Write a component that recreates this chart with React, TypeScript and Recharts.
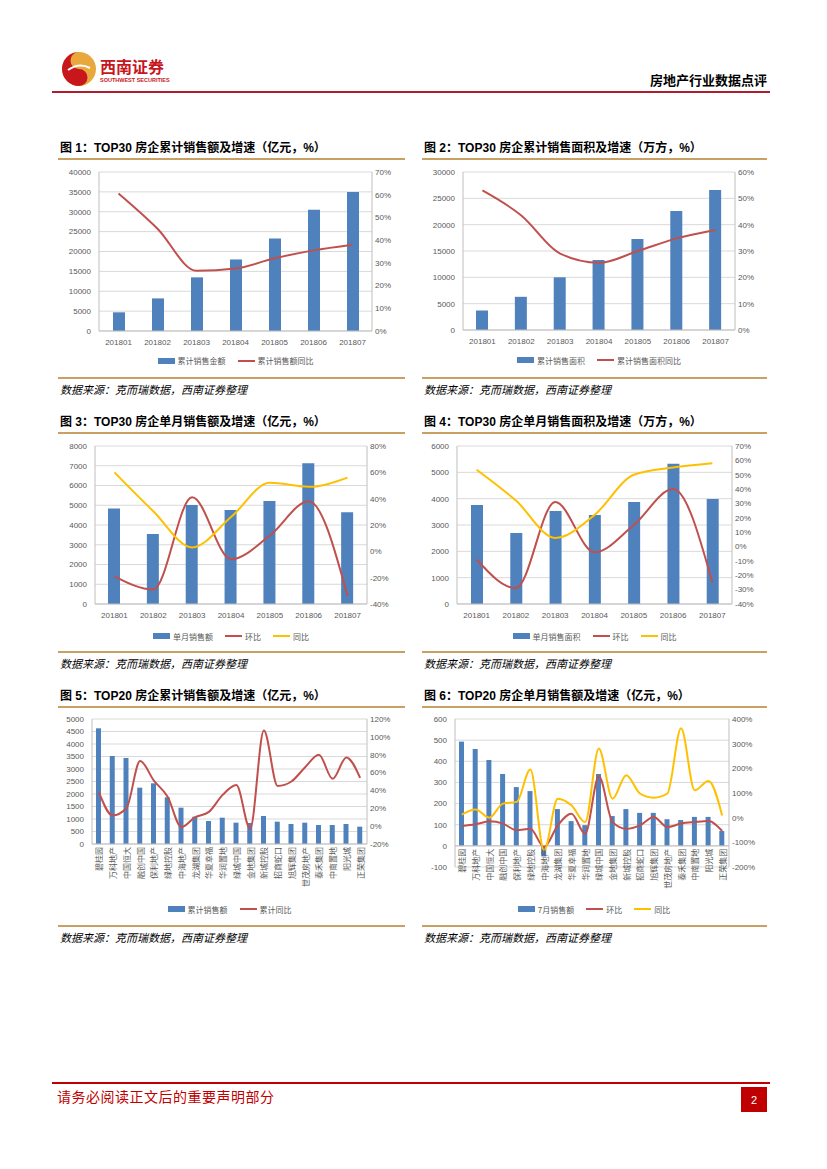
import React from 'react';
import { ComposedChart, Bar, Line, XAxis, YAxis, CartesianGrid, Legend, ReferenceLine } from 'recharts';

// months shared by charts 1-4
const months = ['201801', '201802', '201803', '201804', '201805', '201806', '201807'];

// chart 1: cumulative sales amount (亿元) and yoy (%)
const cumAmount = [4700, 8200, 13500, 18000, 23300, 30500, 35000];
const cumAmountYoy = [60.5, 45, 26.5, 27.5, 32, 35.5, 38];

// chart 2: cumulative sales area (万方) and yoy (%)
const cumArea = [3700, 6300, 10000, 13300, 17300, 22600, 26600];
const cumAreaYoy = [53, 43.5, 29, 25.5, 30, 34.8, 38];

// chart 3: monthly sales amount, mom, yoy
const monthAmount = [4840, 3550, 5010, 4760, 5210, 7130, 4650];
const monthAmountMom = [-19, -29, 41, -6, 12, 38, -34];
const monthAmountYoy = [60, 30.5, 3, 26, 52, 49, 56];

// chart 4: monthly sales area, mom, yoy
const monthArea = [3760, 2700, 3530, 3380, 3870, 5330, 3985];
const monthAreaMom = [-9, -29, 31, -4, 15, 40, -25];
const monthAreaYoy = [53.5, 32, 6, 22, 50, 55, 58];

// charts 5-6: top 20 developers
const companies = [
  '碧桂园', '万科地产', '中国恒大', '融创中国', '保利地产', '绿地控股', '中海地产', '龙湖集团', '华夏幸福', '华润置地',
  '绿城中国', '金地集团', '新城控股', '招商蛇口', '旭辉集团', '世茂房地产', '泰禾集团', '中南置地', '阳光城', '正荣集团',
];
const top20Cum = [4627, 3520, 3440, 2253, 2427, 1867, 1453, 1093, 920, 1053, 853, 840, 1120, 893, 800, 853, 760, 760, 800, 693];
const top20CumYoy = [38, 12, 20, 73, 51, 33, -1, 10, 16, 35, 46, -3, 107, 45, 50, 66, 80, 53, 77, 54];
const top20Month = [493, 458, 406, 340, 278, 259, -50, 174, 117, 98, 340, 141, 174, 156, 156, 126, 122, 137, 137, 70];
const top20MonthMom = [-34, -27, -15, -24, -51, -45, -119, -31, 16, -65, 168, -18, -45, -31, 3, -38, -24, -18, -14, -54];
const top20MonthYoy = [12, 33, 0, 57, 64, 195, -133, 77, 50, -18, 280, 77, 172, 98, 81, 98, 362, 111, 149, 9];

// axis ticks
const ticks1L = [0, 5000, 10000, 15000, 20000, 25000, 30000, 35000, 40000];
const ticks1R = [0, 10, 20, 30, 40, 50, 60, 70];
const ticks2L = [0, 5000, 10000, 15000, 20000, 25000, 30000];
const ticks2R = [0, 10, 20, 30, 40, 50, 60];
const ticks3L = [0, 1000, 2000, 3000, 4000, 5000, 6000, 7000, 8000];
const ticks3R = [-40, -20, 0, 20, 40, 60, 80];
const ticks4L = [0, 1000, 2000, 3000, 4000, 5000, 6000];
const ticks4R = [-40, -30, -20, -10, 0, 10, 20, 30, 40, 50, 60, 70];
const ticks5L = [0, 500, 1000, 1500, 2000, 2500, 3000, 3500, 4000, 4500, 5000];
const ticks5R = [-20, 0, 20, 40, 60, 80, 100, 120];
const ticks6L = [-100, 0, 100, 200, 300, 400, 500, 600];
const ticks6R = [-200, -100, 0, 100, 200, 300, 400];

const BLUE = '#4f81bd';
const RED = '#c0504d';
const YELLOW = '#ffc000';
const GOLD = '#c9a063';
const AXIS = '#bfbfbf';
const GRID = '#d9d9d9';
const TICK = '#595959';
const CJK = '"Noto Sans CJK SC", sans-serif';
const NUM = '"Liberation Sans", Arial, sans-serif';

type Series = { key: string; name: string; color: string; kind: 'bar' | 'line'; axis: 'left' | 'right' };

type ChartProps = {
  box: { x: number; y: number; w: number; h: number };
  plot: { l: number; t: number; r: number; b: number };
  xAxisH: number;
  data: any[];
  series: Series[];
  leftTicks: number[];
  rightTicks: number[];
  barSize: number;
  vertical?: boolean;
};

const VerticalTick = ({ x, y, payload, lift }: any) => {
  const ty = y - lift;
  return (
    <text x={x} y={ty} transform={`rotate(-90, ${x}, ${ty})`} textAnchor="end" dominantBaseline="central"
      fontSize={8} fill={TICK} fontFamily={CJK}>
      {payload.value}
    </text>
  );
};

const ComboChart = ({ box, plot, xAxisH, data, series, leftTicks, rightTicks, barSize, vertical }: ChartProps) => {
  const leftW = plot.l - box.x;
  const rightW = box.x + box.w - plot.r;
  const legendH = box.h - (plot.b - box.y) - xAxisH;
  const lMin = leftTicks[0];
  const lMax = leftTicks[leftTicks.length - 1];
  const lift = lMin < 0 ? ((plot.b - plot.t) * (0 - lMin)) / (lMax - lMin) : 0;

  const legendContent = () => (
    <div style={{
      display: 'flex', justifyContent: 'center', alignItems: 'center', gap: 12, height: legendH,
      paddingLeft: Math.max(0, leftW - rightW), fontFamily: CJK, fontSize: 8, color: TICK,
    }}>
      {series.map((s) => (
        <span key={s.key} style={{ display: 'flex', alignItems: 'center', gap: 3 }}>
          <span style={{ display: 'inline-block', width: 17, height: s.kind === 'bar' ? 6 : 2, background: s.color }} />
          {s.name}
        </span>
      ))}
    </div>
  );

  return (
    <div style={{ position: 'absolute', left: box.x, top: box.y }}>
      <ComposedChart width={box.w} height={box.h} data={data}
        margin={{ top: plot.t - box.y, right: 0, bottom: 0, left: 0 }}>
        <CartesianGrid yAxisId="left" vertical={false} stroke={GRID} />
        {vertical ? (
          <XAxis dataKey="name" interval={0} height={xAxisH} tickLine={false} tickSize={0} tickMargin={3}
            axisLine={lMin < 0 ? false : { stroke: AXIS }}
            tick={<VerticalTick lift={lift} />} />
        ) : (
          <XAxis dataKey="name" interval={0} height={xAxisH} tickLine={false} axisLine={{ stroke: AXIS }}
            tick={{ fontSize: 8, fill: TICK, fontFamily: NUM }} />
        )}
        <YAxis yAxisId="left" width={leftW} domain={[lMin, lMax]} ticks={leftTicks} interval={0}
          tickLine={false} axisLine={{ stroke: AXIS }} tick={{ fontSize: 8, fill: TICK, fontFamily: NUM }} />
        <YAxis yAxisId="right" orientation="right" width={rightW}
          domain={[rightTicks[0], rightTicks[rightTicks.length - 1]]} ticks={rightTicks} interval={0}
          tickLine={false} tickSize={3} tickMargin={0} axisLine={{ stroke: AXIS }}
          tickFormatter={(v: number) => `${v}%`} tick={{ fontSize: 8, fill: TICK, fontFamily: NUM }} />
        {lMin < 0 && <ReferenceLine yAxisId="left" y={0} stroke={AXIS} />}
        <Legend verticalAlign="bottom" height={legendH} content={legendContent} />
        {series.map((s) =>
          s.kind === 'bar' ? (
            <Bar key={s.key} yAxisId={s.axis} dataKey={s.key} name={s.name} fill={s.color} barSize={barSize}
              isAnimationActive={false} />
          ) : (
            <Line key={s.key} yAxisId={s.axis} dataKey={s.key} name={s.name} type="monotone" stroke={s.color}
              strokeWidth={2} dot={false} isAnimationActive={false} />
          )
        )}
      </ComposedChart>
    </div>
  );
};

const data1 = months.map((m, i) => ({ name: m, v: cumAmount[i], yoy: cumAmountYoy[i] }));
const data2 = months.map((m, i) => ({ name: m, v: cumArea[i], yoy: cumAreaYoy[i] }));
const data3 = months.map((m, i) => ({ name: m, v: monthAmount[i], mom: monthAmountMom[i], yoy: monthAmountYoy[i] }));
const data4 = months.map((m, i) => ({ name: m, v: monthArea[i], mom: monthAreaMom[i], yoy: monthAreaYoy[i] }));
const data5 = companies.map((c, i) => ({ name: c, v: top20Cum[i], yoy: top20CumYoy[i] }));
const data6 = companies.map((c, i) => ({ name: c, v: top20Month[i], mom: top20MonthMom[i], yoy: top20MonthYoy[i] }));

const Title = ({ x, y, text }: { x: number; y: number; text: string }) => (
  <div style={{
    position: 'absolute', left: x, top: y - 9, height: 18, lineHeight: '18px', fontSize: 12, fontWeight: 700,
    fontFamily: `"Liberation Sans", ${CJK}`, color: '#000', whiteSpace: 'nowrap',
  }}>{text}</div>
);

const GoldLine = ({ x, y, w }: { x: number; y: number; w: number }) => (
  <div style={{ position: 'absolute', left: x, top: y - 1, width: w, height: 2, background: GOLD }} />
);

const Source = ({ x, y }: { x: number; y: number }) => (
  <div style={{
    position: 'absolute', left: x, top: y - 8, height: 16, lineHeight: '16px', fontSize: 11, fontStyle: 'italic',
    fontFamily: CJK, color: '#000', whiteSpace: 'nowrap',
  }}>数据来源：克而瑞数据，西南证券整理</div>
);

const Section = ({ col, top, title }: { col: 0 | 1; top: number; title: string }) => {
  const x = col === 0 ? 58 : 422;
  const w = col === 0 ? 347 : 345;
  return (
    <>
      <Title x={x + 2} y={top} text={title} />
      <GoldLine x={x} y={top + 11} w={w} />
      <GoldLine x={x} y={top + 230} w={w} />
      <Source x={x + 2} y={top + 241} />
    </>
  );
};

export default function App() {
  return (
    <div style={{ position: 'absolute', left: 0, top: 0, width: 827, height: 1169, background: '#fff', overflow: 'hidden' }}>
      {/* header */}
      <svg style={{ position: 'absolute', left: 60, top: 50 }} width={38} height={38} viewBox="0 0 38 38">
        <circle cx={19} cy={19} r={17} fill="#e9a83b" />
        <path d="M19 2 A17 17 0 0 0 19 36 A8.5 8.5 0 0 0 19 19 A8.5 8.5 0 0 1 19 2 Z" fill="#c8161d" />
        <path d="M8 20 Q19 12 30 18" stroke="#fff" strokeWidth={2} fill="none" />
      </svg>
      <div style={{
        position: 'absolute', left: 100, top: 58, fontSize: 16, fontWeight: 700, fontFamily: CJK, color: '#c8161d',
        lineHeight: '16px', height: 16,
      }}>西南证券</div>
      <div style={{
        position: 'absolute', left: 100, top: 77, fontSize: 5.5, fontWeight: 700, fontFamily: NUM, color: '#c8161d',
        lineHeight: '7px', height: 7,
      }}>SOUTHWEST SECURITIES</div>
      <div style={{
        position: 'absolute', right: 827 - 767, top: 72, fontSize: 13, fontWeight: 700, fontFamily: CJK, color: '#000',
        lineHeight: '16px',
      }}>房地产行业数据点评</div>
      <div style={{ position: 'absolute', left: 52, top: 91, width: 718, height: 2, background: '#b01c2e' }} />

      <Section col={0} top={148} title="图 1：TOP30 房企累计销售额及增速（亿元，%）" />
      <Section col={1} top={148} title="图 2：TOP30 房企累计销售面积及增速（万方，%）" />
      <Section col={0} top={422} title="图 3：TOP30 房企单月销售额及增速（亿元，%）" />
      <Section col={1} top={422} title="图 4：TOP30 房企单月销售面积及增速（万方，%）" />
      <Section col={0} top={696} title="图 5：TOP20 房企累计销售额及增速（亿元，%）" />
      <Section col={1} top={696} title="图 6：TOP20 房企单月销售额及增速（亿元，%）" />

      <ComboChart box={{ x: 52, y: 165, w: 353, h: 205 }} plot={{ l: 99, t: 172, r: 372, b: 331 }} xAxisH={20}
        data={data1} leftTicks={ticks1L} rightTicks={ticks1R} barSize={12}
        series={[
          { key: 'v', name: '累计销售金额', color: BLUE, kind: 'bar', axis: 'left' },
          { key: 'yoy', name: '累计销售额同比', color: RED, kind: 'line', axis: 'right' },
        ]} />
      <ComboChart box={{ x: 418, y: 165, w: 352, h: 205 }} plot={{ l: 463, t: 172, r: 735, b: 330 }} xAxisH={20}
        data={data2} leftTicks={ticks2L} rightTicks={ticks2R} barSize={12}
        series={[
          { key: 'v', name: '累计销售面积', color: BLUE, kind: 'bar', axis: 'left' },
          { key: 'yoy', name: '累计销售面积同比', color: RED, kind: 'line', axis: 'right' },
        ]} />
      <ComboChart box={{ x: 52, y: 440, w: 353, h: 206 }} plot={{ l: 95, t: 446, r: 367, b: 604 }} xAxisH={22}
        data={data3} leftTicks={ticks3L} rightTicks={ticks3R} barSize={12}
        series={[
          { key: 'v', name: '单月销售额', color: BLUE, kind: 'bar', axis: 'left' },
          { key: 'mom', name: '环比', color: RED, kind: 'line', axis: 'right' },
          { key: 'yoy', name: '同比', color: YELLOW, kind: 'line', axis: 'right' },
        ]} />
      <ComboChart box={{ x: 418, y: 440, w: 352, h: 206 }} plot={{ l: 457, t: 446, r: 732, b: 604 }} xAxisH={22}
        data={data4} leftTicks={ticks4L} rightTicks={ticks4R} barSize={12}
        series={[
          { key: 'v', name: '单月销售面积', color: BLUE, kind: 'bar', axis: 'left' },
          { key: 'mom', name: '环比', color: RED, kind: 'line', axis: 'right' },
          { key: 'yoy', name: '同比', color: YELLOW, kind: 'line', axis: 'right' },
        ]} />
      <ComboChart box={{ x: 52, y: 713, w: 353, h: 205 }} plot={{ l: 92, t: 719, r: 367, b: 844 }} xAxisH={56}
        data={data5} leftTicks={ticks5L} rightTicks={ticks5R} barSize={5} vertical
        series={[
          { key: 'v', name: '累计销售额', color: BLUE, kind: 'bar', axis: 'left' },
          { key: 'yoy', name: '累计同比', color: RED, kind: 'line', axis: 'right' },
        ]} />
      <ComboChart box={{ x: 418, y: 713, w: 352, h: 205 }} plot={{ l: 455, t: 719, r: 729, b: 867 }} xAxisH={33}
        data={data6} leftTicks={ticks6L} rightTicks={ticks6R} barSize={5} vertical
        series={[
          { key: 'v', name: '7月销售额', color: BLUE, kind: 'bar', axis: 'left' },
          { key: 'mom', name: '环比', color: RED, kind: 'line', axis: 'right' },
          { key: 'yoy', name: '同比', color: YELLOW, kind: 'line', axis: 'right' },
        ]} />

      {/* footer */}
      <div style={{ position: 'absolute', left: 52, top: 1082, width: 718, height: 2, background: '#c00000' }} />
      <div style={{
        position: 'absolute', left: 57, top: 1087, fontSize: 14, fontFamily: CJK, color: '#c00000', lineHeight: '18px',
        letterSpacing: 0.5,
      }}>请务必阅读正文后的重要声明部分</div>
      <div style={{
        position: 'absolute', left: 741, top: 1087, width: 26, height: 25, background: '#c00000', color: '#fff',
        fontSize: 11, fontFamily: NUM, display: 'flex', alignItems: 'center', justifyContent: 'center',
      }}>2</div>
    </div>
  );
}
